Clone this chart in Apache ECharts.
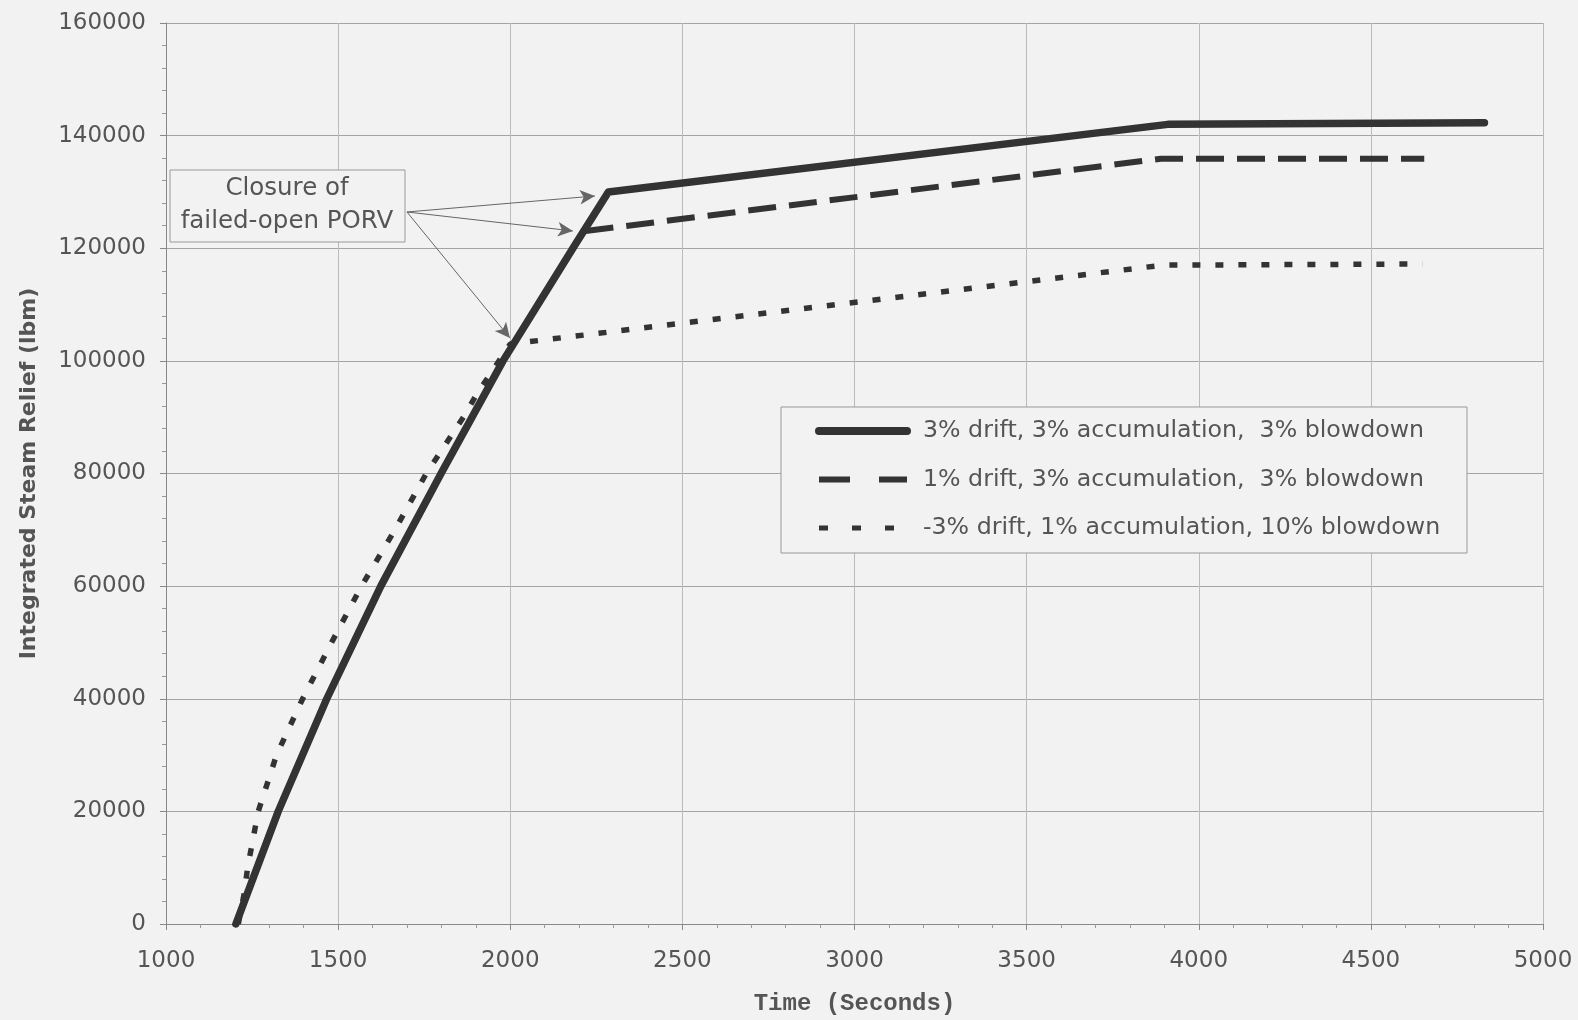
<!DOCTYPE html>
<html>
<head>
<meta charset="utf-8">
<script src="https://cdn.jsdelivr.net/npm/echarts@6/dist/echarts.min.js"></script>
<style>
html,body{margin:0;padding:0;background:#f2f2f2;}
#c{width:1578px;height:1020px;}
</style>
</head>
<body>
<div id="c"></div>
<script>
// ---- data ----
const seriesNames = [
  '3% drift, 3% accumulation,  3% blowdown',
  '1% drift, 3% accumulation,  3% blowdown',
  '-3% drift, 1% accumulation, 10% blowdown'
];
const solidX  = [1203, 1326, 1467, 1624, 1799, 1979, 2182, 2285, 3910, 4830];
const solidY  = [0, 20000, 40000, 60000, 80000, 100000, 120000, 130000, 142000, 142300];
const dashedX = [1203, 1326, 1467, 1624, 1799, 1979, 2182, 2211, 3890, 4655];
const dashedY = [0, 20000, 40000, 60000, 80000, 100000, 120000, 123000, 135900, 135900];
const dottedX = [1210, 1228, 1237, 1268, 1321, 1397, 1481, 1568, 1665, 1756, 1864, 1902, 2000, 3896, 4650];
const dottedY = [0, 5700, 10000, 20000, 30000, 40000, 50000, 60000, 70000, 80000, 90000, 94000, 103000, 117000, 117200];
const annotationLines = ['Closure of', 'failed-open PORV'];
const arrowFrom = [1700, 126440];
const arrowTo = [[2246, 129280], [2182, 123070], [1999, 104070]];
const xAxisTitle = 'Time (Seconds)';
const yAxisTitle = 'Integrated Steam Relief (lbm)';

function pairs(xs, ys) { return xs.map((x, i) => [x, ys[i]]); }

const LINE = '#333333';
const TXT = '#555555';
const BG = '#f2f2f2';

const chart = echarts.init(document.getElementById('c'), null, {renderer: 'canvas'});
const option = {
  backgroundColor: BG,
  animation: false,
  color: [LINE, LINE, LINE],
  grid: {left: 166, right: 35, top: 23, bottom: 96, containLabel: false, outerBoundsMode: 'none'},
  xAxis: {
    type: 'value', min: 1000, max: 5000, interval: 500,
    name: xAxisTitle, nameLocation: 'middle', nameGap: 68,
    nameTextStyle: {fontFamily: 'Liberation Mono', fontWeight: 'bold', fontSize: 24, color: TXT},
    axisLine: {show: true, onZero: false, lineStyle: {color: '#888', width: 1}},
    axisTick: {show: true, length: 6, lineStyle: {color: '#888'}},
    minorTick: {show: true, splitNumber: 5, length: 4, lineStyle: {color: '#999'}},
    axisLabel: {margin: 26, fontFamily: 'DejaVu Sans', fontSize: 23, color: TXT, formatter: v => String(v)},
    splitLine: {show: true, lineStyle: {color: '#bbbbbb', width: 1}}
  },
  yAxis: {
    type: 'value', min: 0, max: 160000, interval: 20000,
    name: yAxisTitle, nameLocation: 'middle', nameGap: 126, nameRotate: 90,
    nameTextStyle: {fontFamily: 'DejaVu Sans', fontWeight: 'bold', fontSize: 22, color: TXT},
    axisLine: {show: true, onZero: false, lineStyle: {color: '#888', width: 1}},
    axisTick: {show: true, length: 6, lineStyle: {color: '#888'}},
    minorTick: {show: true, splitNumber: 5, length: 4, lineStyle: {color: '#999'}},
    axisLabel: {margin: 20, fontFamily: 'DejaVu Sans', fontSize: 23, color: TXT, formatter: v => String(v)},
    splitLine: {show: true, lineStyle: {color: '#a4a4a4', width: 1}}
  },
  legend: {
    orient: 'vertical', left: 815, top: 417, padding: 0,
    itemWidth: 88, itemHeight: 14, itemGap: 20.5, z: 20, selectedMode: false,
    textStyle: {fontFamily: 'DejaVu Sans', fontSize: 23.7, color: TXT, lineHeight: 28, padding: [0, 0, 0, 11]},
    data: [
      {name: seriesNames[0], itemStyle: {opacity: 0, borderWidth: 0}, lineStyle: {width: 8, type: 'solid', color: LINE, cap: 'round'}},
      {name: seriesNames[1], itemStyle: {opacity: 0, borderWidth: 0}, lineStyle: {width: 6, type: [31, 29], color: LINE}},
      {name: seriesNames[2], itemStyle: {opacity: 0, borderWidth: 0}, lineStyle: {width: 5, type: [9, 24], color: LINE}}
    ]
  },
  series: [
    {
      name: seriesNames[1], type: 'line', data: pairs(dashedX, dashedY), symbol: 'none', silent: true, z: 3,
      itemStyle: {color: LINE},
      lineStyle: {color: LINE, width: 6, type: [28, 13], cap: 'butt'}
    },
    {
      name: seriesNames[0], type: 'line', data: pairs(solidX, solidY), symbol: 'none', silent: true, z: 4,
      itemStyle: {color: LINE},
      lineStyle: {color: LINE, width: 7.5, type: 'solid', join: 'round', cap: 'round'},
      markLine: {
        silent: true, animation: false, symbol: ['none', 'arrow'], symbolSize: [0, 14],
        label: {show: false}, emphasis: {disabled: true},
        lineStyle: {color: '#666', width: 1, type: 'solid'},
        data: arrowTo.map(t => [{coord: arrowFrom}, {coord: t, symbolSize: [11, 15]}])
      }
    },
    {
      name: seriesNames[2], type: 'line', data: pairs(dottedX, dottedY), symbol: 'none', silent: true, z: 5,
      itemStyle: {color: LINE},
      lineStyle: {color: LINE, width: 5.5, type: [8, 15], cap: 'butt'}
    }
  ],
  graphic: [
    {type: 'rect', z: 10, shape: {x: 781, y: 407, width: 686, height: 146},
      style: {fill: BG, stroke: '#999', lineWidth: 1}},
    {type: 'rect', z: 50, shape: {x: 170, y: 170, width: 235, height: 72},
      style: {fill: BG, stroke: '#999', lineWidth: 1}},
    {type: 'text', z: 51, x: 287, y: 189,
      style: {text: annotationLines[0], fontFamily: 'DejaVu Sans', fontSize: 24.5, fill: TXT, align: 'center', verticalAlign: 'middle'}},
    {type: 'text', z: 51, x: 287, y: 222,
      style: {text: annotationLines[1], fontFamily: 'DejaVu Sans', fontSize: 24.5, fill: TXT, align: 'center', verticalAlign: 'middle'}}
  ]
};
chart.setOption(option);
</script>
</body>
</html>
